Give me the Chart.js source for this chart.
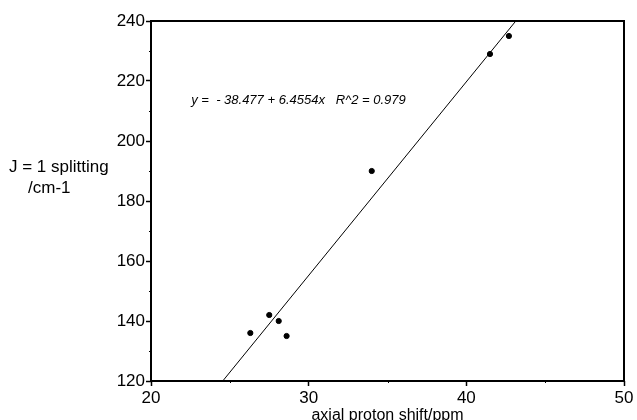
<!DOCTYPE html>
<html>
<head>
<meta charset="utf-8">
<script src="https://cdn.jsdelivr.net/npm/chart.js@4"></script>
<style>
  html, body { margin: 0; padding: 0; background: #fff; }
  #wrap { width: 637px; height: 420px; }
</style>
</head>
<body>
<div id="wrap"><canvas id="canvas" width="637" height="420"></canvas></div>
<script>
// measured points: axial proton shift (ppm) vs J = 1 splitting (cm-1)
const shiftPpm = [26.3, 27.5, 28.1, 28.6, 34.0, 41.5, 42.7];
const splitting = [136, 142, 140, 135, 190, 229, 235];

// least squares fit as printed on the plot
const fitIntercept = -38.477;
const fitSlope = 6.4554;
const fitR2 = 0.979;

const xTicks = [20, 30, 40, 50];
const yTicks = [120, 140, 160, 180, 200, 220, 240];
const xMinor = [25, 35, 45];
const yMinor = [130, 150, 170, 190, 210, 230];

const fontFamily = '"Liberation Sans", Arial, sans-serif';

let points = [];
for (let i = 0; i < shiftPpm.length; i++) {
    points.push({ x: shiftPpm[i], y: splitting[i] });
}

// fit line across the whole x range, clipped to the plot box
let xLo = xTicks[0], xHi = xTicks[xTicks.length - 1];
let fitLine = [
    { x: xLo, y: fitIntercept + fitSlope * xLo },
    { x: xHi, y: fitIntercept + fitSlope * xHi }
];

// frame, minor ticks and text labels
const decorations = {
    id: 'decorations',
    afterDraw(chart) {
        const ctx = chart.ctx;
        const area = chart.chartArea;
        const xs = chart.scales.x, ys = chart.scales.y;
        ctx.save();
        ctx.strokeStyle = '#000';
        ctx.lineWidth = 2;
        ctx.strokeRect(area.left, area.top, area.right - area.left, area.bottom - area.top);

        ctx.lineWidth = 1;
        ctx.beginPath();
        xMinor.forEach(v => {
            let px = Math.round(xs.getPixelForValue(v)) + 0.5;
            ctx.moveTo(px, area.bottom);
            ctx.lineTo(px, area.bottom + 2);
        });
        yMinor.forEach(v => {
            let py = Math.round(ys.getPixelForValue(v)) + 0.5;
            ctx.moveTo(area.left, py);
            ctx.lineTo(area.left - 2, py);
        });
        ctx.stroke();

        ctx.fillStyle = '#000';
        ctx.font = 'italic 13px ' + fontFamily;
        ctx.textAlign = 'left';
        ctx.textBaseline = 'middle';
        let eq = 'y =  - ' + Math.abs(fitIntercept) + ' + ' + fitSlope + 'x   R^2 = ' + fitR2;
        ctx.fillText(eq, xs.getPixelForValue(22.55), ys.getPixelForValue(213.5));

        ctx.font = '16px ' + fontFamily;
        ctx.textBaseline = 'alphabetic';
        ctx.textAlign = 'center';
        ctx.fillText('axial proton shift/ppm', (area.left + area.right) / 2, 420);
        ctx.font = '17px ' + fontFamily;
        ctx.textAlign = 'left';
        ctx.fillText('J = 1 splitting', 9, 172);
        ctx.fillText('/cm-1', 28, 193);
        ctx.restore();
    }
};

let options = {
    type: 'scatter',
    data: {
        datasets: [{
            data: points,
            backgroundColor: '#000',
            borderColor: '#000',
            pointRadius: 2.6,
            pointHoverRadius: 2.6
        }, {
            type: 'line',
            data: fitLine,
            borderColor: '#000',
            borderWidth: 1,
            pointRadius: 0,
            fill: false
        }]
    },
    options: {
        responsive: false,
        animation: false,
        events: [],
        layout: { padding: { top: 21, right: 13, bottom: 0, left: 0 } },
        plugins: {
            legend: { display: false },
            tooltip: { enabled: false }
        },
        scales: {
            x: {
                type: 'linear',
                min: xLo,
                max: xHi,
                afterFit(scale) { scale.height = 39; },
                afterBuildTicks(scale) { scale.ticks = xTicks.map(v => ({ value: v })); },
                border: { display: false },
                grid: { drawOnChartArea: false, tickLength: 5, tickColor: '#000', tickWidth: 1.5 },
                ticks: { color: '#000', padding: 2, maxRotation: 0, font: { family: fontFamily, size: 17 } }
            },
            y: {
                type: 'linear',
                min: yTicks[0],
                max: yTicks[yTicks.length - 1],
                afterFit(scale) { scale.width = 151; },
                afterBuildTicks(scale) { scale.ticks = yTicks.map(v => ({ value: v })); },
                border: { display: false },
                grid: { drawOnChartArea: false, tickLength: 5, tickColor: '#000', tickWidth: 1.5 },
                ticks: { color: '#000', padding: 1, font: { family: fontFamily, size: 17 } }
            }
        }
    },
    plugins: [decorations]
};

let chart = new Chart(document.getElementById('canvas'), options);
</script>
</body>
</html>
